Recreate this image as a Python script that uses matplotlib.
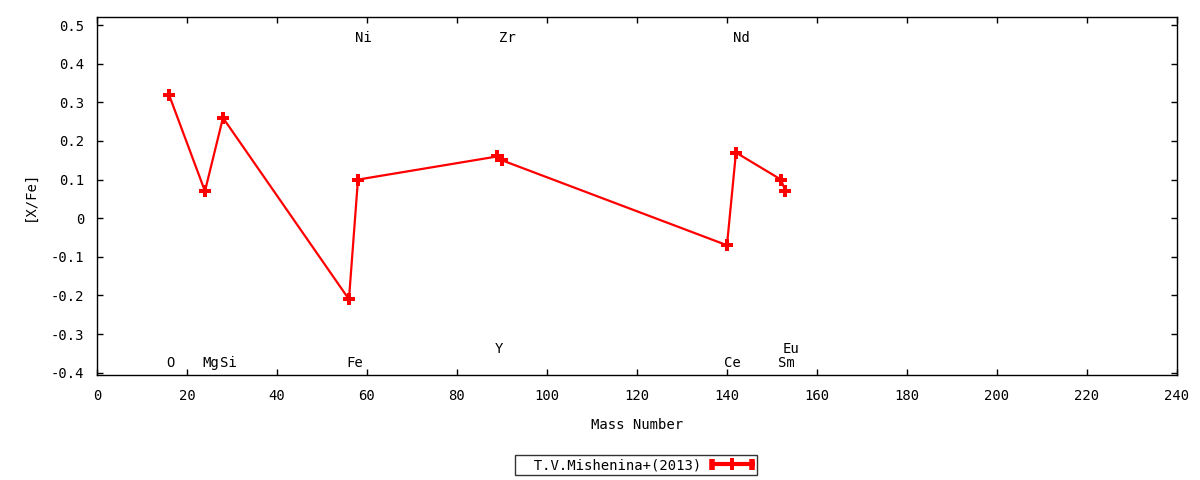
import matplotlib
matplotlib.use("Agg")
import matplotlib.pyplot as plt
from matplotlib.lines import Line2D
from matplotlib.legend_handler import HandlerBase

plt.rcParams['font.family'] = ['DejaVu Sans Mono']

# Data
elements = ["O", "Mg", "Si", "Fe", "Ni", "Y", "Zr", "Ce", "Nd", "Sm", "Eu"]
mass_numbers = [16, 24, 28, 56, 58, 89, 90, 140, 142, 152, 153]
x_fe = [0.32, 0.07, 0.26, -0.21, 0.10, 0.16, 0.15, -0.07, 0.17, 0.10, 0.07]
# label placement: 'bottom', 'raised', 'top'
label_rows = ["bottom", "bottom", "bottom", "bottom", "top", "raised", "top",
              "bottom", "top", "bottom", "raised"]
series_name = "T.V.Mishenina+(2013)"
x_ticks = list(range(0, 241, 20))
y_ticks = [-0.4, -0.3, -0.2, -0.1, 0, 0.1, 0.2, 0.3, 0.4, 0.5]
y_tick_labels = ["-0.4", "-0.3", "-0.2", "-0.1", "0", "0.1", "0.2", "0.3", "0.4", "0.5"]

FS = 10


class CapLineHandler(HandlerBase):
    def create_artists(self, legend, orig_handle, xdescent, ydescent,
                       width, height, fontsize, trans):
        y = height / 2 - ydescent
        x0, x1 = -xdescent, width - xdescent
        cap = 8.0
        arts = [
            Line2D([x0, x1], [y, y], color="red", lw=3, solid_capstyle="butt"),
            Line2D([x0 + 1.5, x0 + 1.5], [y - cap / 2, y + cap / 2], color="red", lw=4,
                   solid_capstyle="butt"),
            Line2D([x1 - 1.5, x1 - 1.5], [y - cap / 2, y + cap / 2], color="red", lw=4,
                   solid_capstyle="butt"),
            Line2D([(x0 + x1) / 2], [y], color="red", marker="P", markersize=8,
                   markeredgewidth=0),
        ]
        for a in arts:
            a.set_transform(trans)
        return arts


fig = plt.figure(figsize=(12, 4.8), dpi=100)
ax = fig.add_axes([0.0808, 0.2187, 0.9, 0.7459])

line, = ax.plot(mass_numbers, x_fe, color="red", lw=1.6, marker="P",
                markersize=8.5, markeredgewidth=0, label=series_name)

row_y = {"bottom": -0.376, "raised": -0.339, "top": 0.466}
for el, m, r in zip(elements, mass_numbers, label_rows):
    ax.text(m - 0.6, row_y[r], el, ha="left", va="center", fontsize=FS)

ax.set_xlim(0, 240)
ax.set_ylim(-0.406, 0.521)
ax.set_xticks(x_ticks)
ax.set_yticks(y_ticks)
ax.set_yticklabels(y_tick_labels)
ax.tick_params(direction="in", length=4, width=1, top=True, right=True,
               labelsize=FS, colors="black")
ax.tick_params(axis="y", pad=9)
ax.tick_params(axis="x", pad=10)
for s in ax.spines.values():
    s.set_linewidth(1)
    s.set_color("black")

ax.set_xlabel("Mass Number", fontsize=FS, labelpad=11)
ax.set_ylabel("[X/Fe]", fontsize=FS, labelpad=10)

leg = fig.legend([line], ["  " + series_name], loc="center",
                 bbox_to_anchor=(0.530, 0.031), markerfirst=False,
                 handler_map={line: CapLineHandler()},
                 fontsize=FS, frameon=True, fancybox=False, borderpad=0.2,
                 handlelength=3.2, handletextpad=0.6, borderaxespad=0)
leg.get_frame().set_edgecolor("black")
leg.get_frame().set_linewidth(1)

fig.savefig("out.png", dpi=100)
